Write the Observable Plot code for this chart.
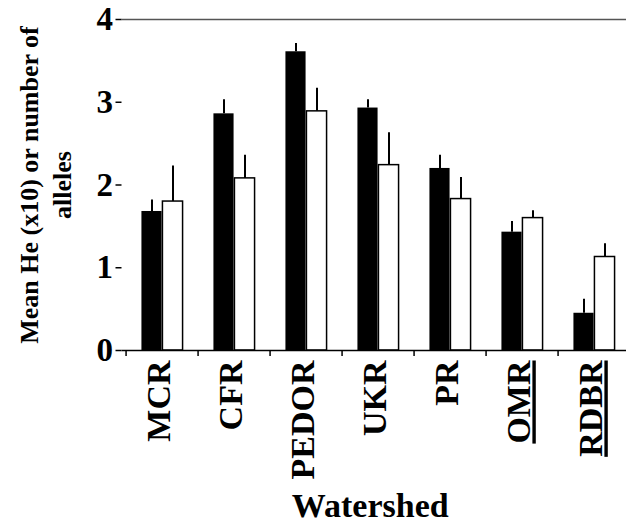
<!DOCTYPE html>
<html><head><meta charset="utf-8">
<script src="https://cdn.jsdelivr.net/npm/d3@7"></script>
<script src="https://cdn.jsdelivr.net/npm/@observablehq/plot@0.6"></script>
<style>html,body{margin:0;padding:0;background:#fff;overflow:hidden}</style>
</head><body><div id="chart"></div>
<script>
const watersheds = ["MCR", "CFR", "PEDOR", "UKR", "PR", "OMR", "RDBR"];
const heMean = [1.68, 2.86, 3.61, 2.93, 2.20, 1.43, 0.45];
const heErr = [0.14, 0.17, 0.10, 0.10, 0.16, 0.13, 0.17];
const allelesMean = [1.80, 2.08, 2.89, 2.24, 1.83, 1.60, 1.13];
const allelesErr = [0.43, 0.28, 0.28, 0.39, 0.26, 0.09, 0.16];
const yTicks = [0, 1, 2, 3, 4];
const underlined = ["OMR", "RDBR"];
const yTitle = "Mean He (x10) or number of\nalleles";
const xTitle = "Watershed";

const W = 626, H = 523;
const xRange = [123, 633];
const step = (xRange[1] - xRange[0]) / watersheds.length;
const barW = 21;
const side = (step - barW) / 2;

const he = watersheds.map((w, i) => ({watershed: w, mean: heMean[i], upper: heMean[i] + heErr[i]}));
const al = watersheds.map((w, i) => ({watershed: w, mean: allelesMean[i], upper: allelesMean[i] + allelesErr[i]}));

const font = "Liberation Serif";
const plot = Plot.plot({
  width: W, height: H,
  marginLeft: 121.5, marginRight: 0, marginTop: 19, marginBottom: 173,
  style: "font-family: 'Liberation Serif', serif; font-weight: bold; background: #fff; color: #000; overflow: hidden;",
  x: {domain: watersheds, range: xRange, padding: 0},
  y: {domain: [0, 4]},
  marks: [
    Plot.ruleY([4], {stroke: "#555", strokeWidth: 1.5}),
    Plot.barY(he, {x: "watershed", y: "mean", fill: "#000", insetLeft: side, insetRight: side, dx: -barW / 2}),
    Plot.barY(al, {x: "watershed", y: "mean", fill: "#fff", stroke: "#000", strokeWidth: 1.5, insetLeft: side, insetRight: side, dx: barW / 2}),
    Plot.ruleX(he, {x: "watershed", y1: "mean", y2: "upper", dx: -barW / 2, strokeWidth: 2}),
    Plot.ruleX(al, {x: "watershed", y1: "mean", y2: "upper", dx: barW / 2, strokeWidth: 2}),
    Plot.ruleY([0], {stroke: "#000", strokeWidth: 1.5}),
    Plot.axisY({ticks: yTicks, tickSize: 6, tickPadding: 3, fontSize: 33, fontFamily: font, fontWeight: "bold", label: null, line: true, strokeWidth: 1.5, tickFormat: d => String(d)}),
    Plot.axisX({tickSize: 6, tickFormat: () => "", dx: -step / 2, label: null, strokeWidth: 1.5}),
    Plot.axisX({tickSize: 0, tickPadding: 10, tickRotate: -90, fontSize: 34, fontFamily: font, fontWeight: "bold", dx: -3, label: null}),
    Plot.text([yTitle], {frameAnchor: "left", dx: 43 - 121.5, rotate: -90, fontSize: 26, fontFamily: font, fontWeight: "bold", lineHeight: 33 / 26, textAnchor: "middle", lineAnchor: "middle"}),
    Plot.text([xTitle], {frameAnchor: "bottom", dy: 166, fontSize: 34, fontFamily: font, fontWeight: "bold", lineAnchor: "bottom", dx: -4})
  ]
});
d3.select(plot).selectAll("text").each(function() {
  if (underlined.includes(this.textContent)) this.style.textDecoration = "underline";
});
document.getElementById("chart").appendChild(plot);
</script>
</body></html>
